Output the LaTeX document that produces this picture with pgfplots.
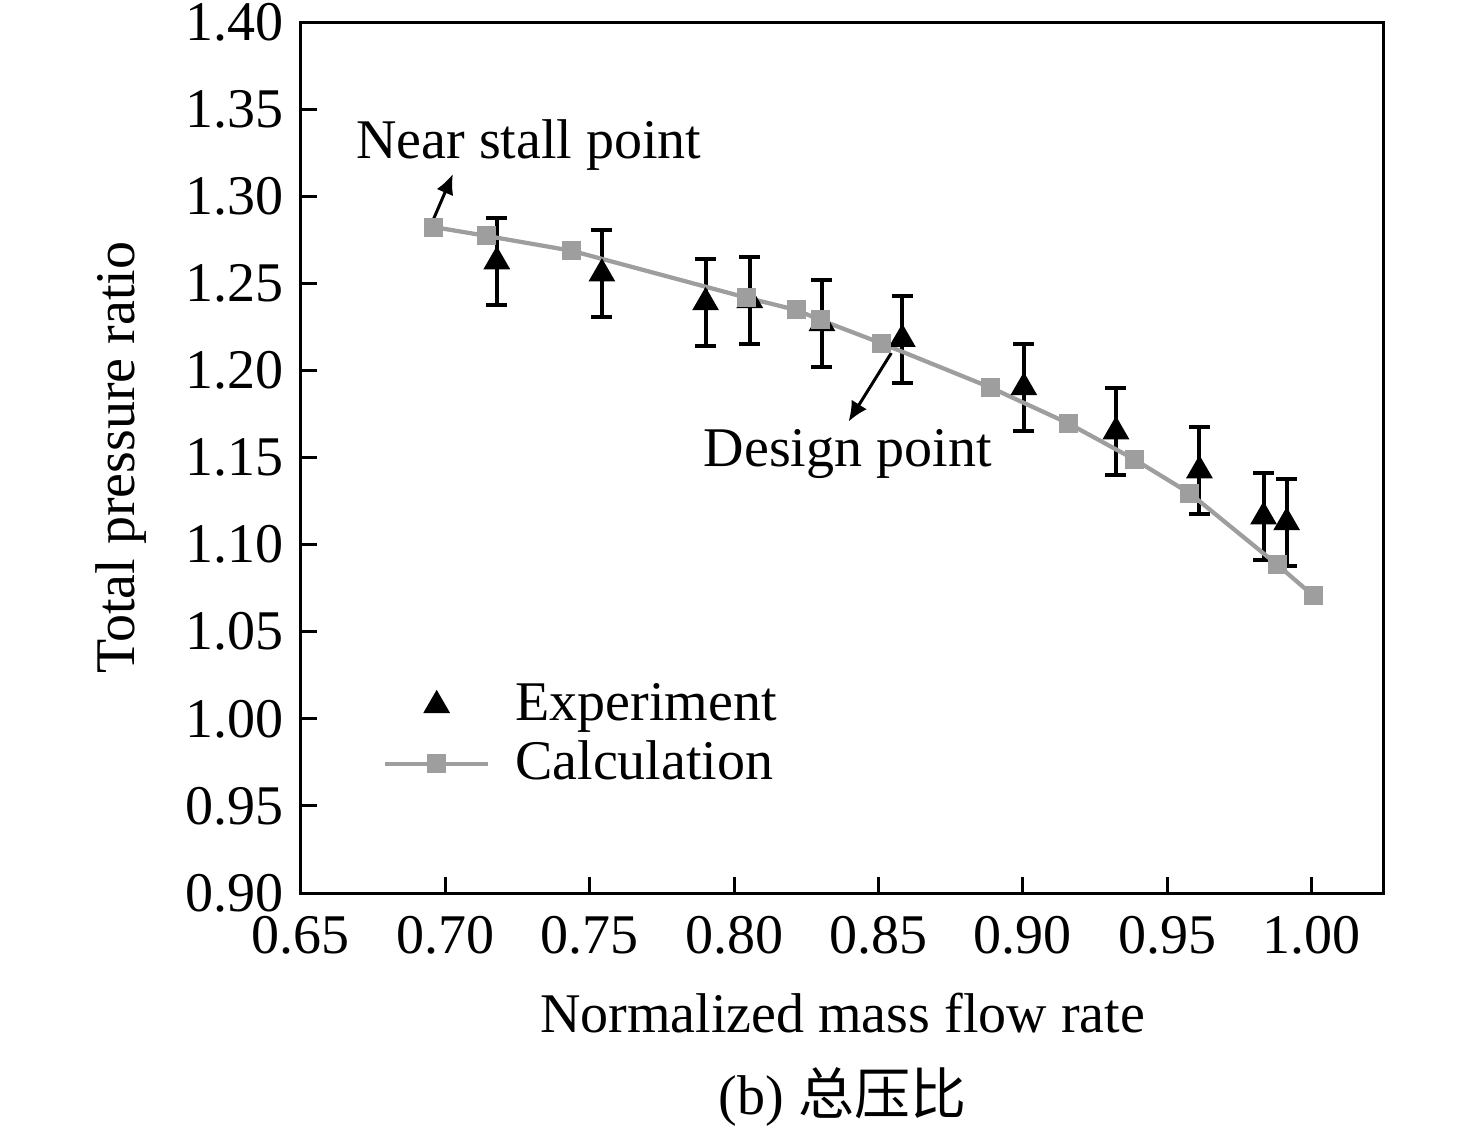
\documentclass[border=0pt]{standalone}
\usepackage{fontspec}
\setmainfont{Liberation Serif}
\newfontfamily\cjk{Noto Sans CJK SC}
\usepackage{pgfplots}
\pgfplotsset{compat=1.18}
\usetikzlibrary{arrows.meta}
\definecolor{calcgray}{RGB}{158,158,158}

\begin{document}
\begin{tikzpicture}[font=\fontsize{11.2}{13.4}\selectfont]
\begin{axis}[name=ax, scale only axis, width=216.6pt, height=174.2pt,
  xmin=0.65, xmax=1.025, ymin=0.90, ymax=1.40,
  xtick={0.65,0.70,0.75,0.80,0.85,0.90,0.95,1.00},
  ytick={0.90,0.95,1.00,1.05,1.10,1.15,1.20,1.25,1.30,1.35,1.40},
  /pgf/number format/fixed, /pgf/number format/fixed zerofill,
  /pgf/number format/precision=2, /pgf/number format/assume math mode=true,
  tick align=inside, xtick pos=bottom, ytick pos=left,
  major tick length=3.2pt,
  every tick/.style={black, line width=0.6pt},
  axis line style={line width=0.6pt},
  xticklabel style={yshift=-1.2pt},
  xlabel={Normalized mass flow rate},
  xlabel style={yshift=-0.8pt},
  ylabel={Total pressure ratio},
  ylabel shift=1pt,
  legend style={draw=none, fill=none, at={(0.061,0.2652)}, anchor=north west, row sep=-1.4pt},
  legend cell align=left,
  legend image code/.code={\draw[mark repeat=2,mark phase=2,#1] plot coordinates {(0pt,0pt) (10.3pt,0pt) (20.6pt,0pt)}; \path (23.6pt,0pt);},
]
\addplot[only marks, mark=triangle*, mark size=2.7pt, color=black,
  error bars/.cd, y dir=both, y fixed=0.025,
  error bar style={line width=0.8pt, black},
  error mark options={rotate=90, mark size=2.1pt, line width=0.8pt, black}]
coordinates {
(0.7178,1.2625) (0.7542,1.2555) (0.7901,1.2390) (0.8054,1.2402) (0.8304,1.2270)
(0.8582,1.2180) (0.9003,1.1902) (0.9322,1.1649) (0.9611,1.1425) (0.9833,1.1160)
(0.9913,1.1127)};
\addlegendentry{Experiment}
\addplot[color=calcgray, line width=0.85pt, mark=square*, mark size=1.8pt,
  mark options={solid, fill=calcgray, draw=calcgray, line width=0pt}]
coordinates {
(0.6960,1.2823) (0.7143,1.2772) (0.7437,1.2687) (0.8044,1.2417) (0.8215,1.2347)
(0.8298,1.2290) (0.8511,1.2155) (0.8886,1.1903) (0.9157,1.1696) (0.9386,1.1489)
(0.9578,1.1294) (0.9882,1.0883) (1.0005,1.0707)};
\addlegendentry{Calculation}
\draw[line width=0.6pt, -{Latex[length=4pt,width=3.6pt]}] (axis cs:0.6953,1.2846) -- (axis cs:0.7026,1.3127);
\draw[line width=0.6pt, -{Latex[length=4pt,width=3.6pt]}] (axis cs:0.8544,1.2100) -- (axis cs:0.8396,1.1706);
\node[anchor=base] at (axis cs:0.7289,1.3219) {Near stall point};
\node[anchor=base] at (axis cs:0.8393,1.1446) {Design point};
\end{axis}
\node[anchor=base] at ([yshift=-44.4pt]ax.south) {(b) {\cjk 总压比}};
\pgfresetboundingbox
\path (ax.south west) ++(-60.2pt,178.6pt) (ax.south west) ++(235pt,-46.6pt);
\end{tikzpicture}
\end{document}
